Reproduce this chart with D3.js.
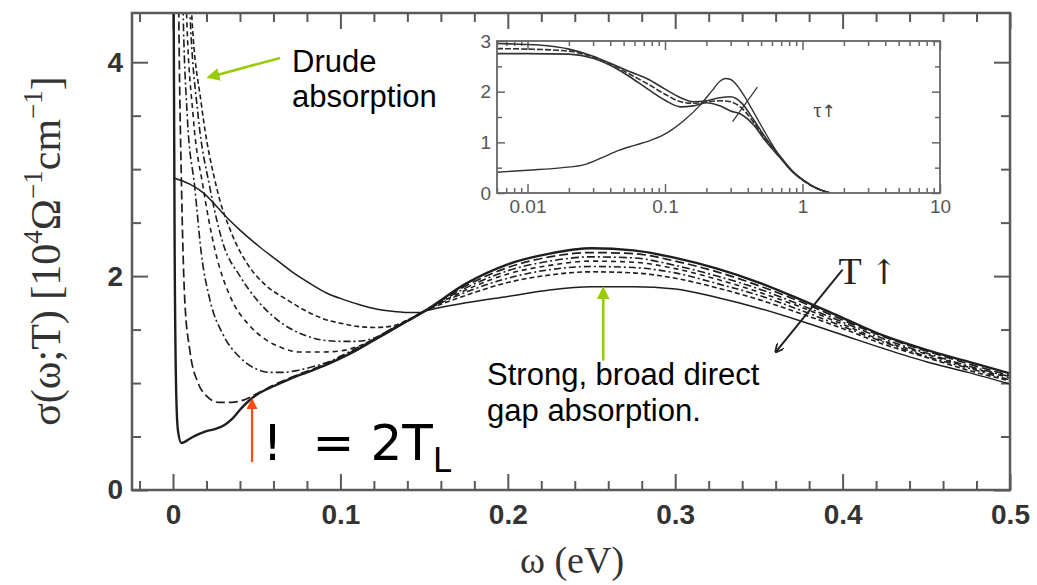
<!DOCTYPE html>
<html>
<head>
<meta charset="utf-8">
<script src="https://cdn.jsdelivr.net/npm/d3@7"></script>
<style>
  body { margin: 0; background: #fff; }
</style>
</head>
<body>
<div id="wrapper"></div>
<script>
// ---- valores (omega em eV, sigma em 10^4 ohm^-1 cm^-1) ----
const omegaTicks = [0, 0.1, 0.2, 0.3, 0.4, 0.5];
const sigmaTicks = [0, 2, 4];

// parte baixa-frequencia de cada curva: pares [omega, sigma]
const lowT1 = [[0,6.0],[0.001,2.2],[0.002,0.85],[0.003,0.55],[0.005,0.44],[0.007,0.45],[0.01,0.48],[0.015,0.52],[0.02,0.55],[0.025,0.57],[0.03,0.6],[0.035,0.66],[0.04,0.75],[0.045,0.83],[0.05,0.89],[0.06,0.97],[0.07,1.04],[0.08,1.1],[0.09,1.16],[0.1,1.23],[0.11,1.31],[0.12,1.4],[0.13,1.49],[0.14,1.58]];
const lowT2 = [[0,9],[0.0025,6.5],[0.0035,4.4],[0.005,2.9],[0.007,1.78],[0.01,1.31],[0.015,1.0],[0.02,0.88],[0.027,0.82],[0.035,0.82],[0.042,0.84],[0.05,0.9],[0.06,0.98],[0.07,1.05],[0.08,1.11],[0.09,1.17],[0.1,1.24],[0.11,1.32],[0.12,1.41],[0.13,1.5],[0.14,1.58]];
const lowT3 = [[0,9],[0.004,6.5],[0.006,4.5],[0.0085,3.5],[0.013,2.83],[0.017,2.2],[0.022,1.78],[0.03,1.45],[0.04,1.24],[0.05,1.13],[0.058,1.1],[0.066,1.1],[0.075,1.12],[0.085,1.16],[0.095,1.21],[0.1,1.25],[0.11,1.33],[0.12,1.41],[0.13,1.5],[0.14,1.58]];
const lowT4 = [[0,9],[0.005,6.5],[0.008,4.5],[0.012,3.5],[0.018,2.83],[0.025,2.25],[0.035,1.78],[0.045,1.55],[0.055,1.41],[0.065,1.33],[0.076,1.29],[0.088,1.29],[0.1,1.3],[0.11,1.34],[0.12,1.41],[0.13,1.5],[0.14,1.58]];
const lowT5 = [[0,9],[0.006,6.5],[0.01,4.5],[0.015,3.5],[0.022,2.83],[0.03,2.3],[0.04,2.0],[0.05,1.78],[0.06,1.62],[0.07,1.51],[0.08,1.44],[0.09,1.4],[0.1,1.39],[0.11,1.39],[0.12,1.42],[0.13,1.5],[0.14,1.58]];
const lowT6 = [[0,9],[0.007,6.5],[0.011,4.5],[0.017,3.6],[0.026,2.83],[0.035,2.4],[0.045,2.1],[0.055,1.92],[0.068,1.78],[0.08,1.67],[0.09,1.6],[0.1,1.56],[0.11,1.53],[0.12,1.52],[0.13,1.53],[0.14,1.59]];
const lowT7 = [[0,2.92],[0.01,2.86],[0.018,2.78],[0.025,2.67],[0.032,2.55],[0.04,2.43],[0.052,2.27],[0.062,2.15],[0.072,2.03],[0.082,1.93],[0.092,1.84],[0.102,1.78],[0.112,1.73],[0.122,1.69],[0.132,1.67],[0.14,1.66],[0.148,1.66]];

// parte do gap direto, mesma grade de omega para todas
const omegaGap = [0.15, 0.175, 0.2, 0.225, 0.25, 0.275, 0.3, 0.325, 0.35, 0.375, 0.4, 0.425, 0.45, 0.475, 0.5];
const gapT1 = [1.67, 1.93, 2.11, 2.21, 2.26, 2.24, 2.17, 2.07, 1.94, 1.78, 1.61, 1.44, 1.31, 1.20, 1.09];
const gapT2 = [1.67, 1.91, 2.08, 2.18, 2.22, 2.21, 2.14, 2.04, 1.91, 1.76, 1.59, 1.43, 1.30, 1.18, 1.07];
const gapT3 = [1.67, 1.89, 2.05, 2.14, 2.18, 2.17, 2.10, 2.00, 1.88, 1.73, 1.57, 1.41, 1.28, 1.16, 1.06];
const gapT4 = [1.67, 1.87, 2.02, 2.10, 2.14, 2.13, 2.07, 1.97, 1.85, 1.71, 1.55, 1.39, 1.27, 1.15, 1.05];
const gapT5 = [1.67, 1.85, 1.98, 2.06, 2.09, 2.08, 2.03, 1.93, 1.82, 1.68, 1.53, 1.38, 1.25, 1.14, 1.03];
const gapT6 = [1.67, 1.82, 1.94, 2.01, 2.04, 2.03, 1.98, 1.89, 1.78, 1.65, 1.51, 1.36, 1.24, 1.12, 1.02];
const gapT7 = [1.67, 1.75, 1.81, 1.87, 1.90, 1.90, 1.88, 1.80, 1.70, 1.58, 1.45, 1.32, 1.20, 1.10, 0.99];

// inset (eixo x logaritmico)
const insetXTicks = [0.01, 0.1, 1, 10];
const insetYTicks = [0, 1, 2, 3];
const insetLow = [[0.006,0.41],[0.01,0.45],[0.018,0.5],[0.026,0.56],[0.035,0.7],[0.046,0.84],[0.06,0.94],[0.077,1.03],[0.095,1.13],[0.114,1.26],[0.14,1.45],[0.178,1.72],[0.22,2.02],[0.25,2.2],[0.275,2.26],[0.3,2.24],[0.33,2.14],[0.37,1.95],[0.44,1.6],[0.533,1.2],[0.69,0.71],[0.85,0.42],[1.02,0.25],[1.3,0.08],[1.6,0.0]];
const insetA = [[0.006,2.95],[0.008,2.94],[0.012,2.92],[0.02,2.84],[0.03,2.7],[0.04,2.56],[0.055,2.4],[0.075,2.25],[0.1,2.05],[0.13,1.88],[0.16,1.8],[0.2,1.82],[0.25,1.88],[0.3,1.9],[0.36,1.78],[0.44,1.45],[0.53,1.12],[0.69,0.72],[0.85,0.43],[1.02,0.25],[1.3,0.08],[1.6,0.0]];
const insetB = [[0.006,2.85],[0.01,2.84],[0.02,2.8],[0.03,2.68],[0.04,2.55],[0.055,2.35],[0.075,2.15],[0.1,1.95],[0.13,1.8],[0.16,1.77],[0.2,1.8],[0.25,1.82],[0.3,1.8],[0.36,1.68],[0.44,1.4],[0.53,1.08],[0.69,0.7],[0.85,0.42],[1.02,0.24],[1.3,0.08],[1.6,0.0]];
const insetC = [[0.006,2.75],[0.01,2.75],[0.02,2.74],[0.03,2.66],[0.04,2.52],[0.055,2.3],[0.075,2.05],[0.1,1.83],[0.13,1.7],[0.16,1.72],[0.2,1.78],[0.25,1.72],[0.3,1.62],[0.36,1.55],[0.44,1.35],[0.53,1.05],[0.69,0.69],[0.85,0.41],[1.02,0.24],[1.3,0.08],[1.6,0.0]];

function draw() {
  const width = 1037, height = 585;
  const plot = { left: 132, right: 1010, top: 13, bottom: 490 };
  const inset = { left: 497, right: 940, top: 41, bottom: 193 };

  const svg = d3.select("#wrapper").append("svg")
    .attr("width", width).attr("height", height)
    .style("font-family", "'Liberation Sans', Arial, sans-serif");

  const defs = svg.append("defs");
  defs.append("clipPath").attr("id", "plotClip")
    .append("rect").attr("x", plot.left).attr("y", plot.top)
    .attr("width", plot.right - plot.left).attr("height", plot.bottom - plot.top);
  defs.append("clipPath").attr("id", "insetClip")
    .append("rect").attr("x", inset.left).attr("y", inset.top)
    .attr("width", inset.right - inset.left).attr("height", inset.bottom - inset.top);

  // pontas de seta
  const marker = (id, color, open) => {
    const m = defs.append("marker").attr("id", id)
      .attr("viewBox", "0 0 10 10").attr("refX", open ? 9 : 8).attr("refY", 5)
      .attr("markerWidth", open ? 9 : 5).attr("markerHeight", open ? 9 : 5)
      .attr("markerUnits", open ? "userSpaceOnUse" : "strokeWidth")
      .attr("orient", "auto");
    if (open) m.append("path").attr("d", "M0,0 L10,5 L0,10").attr("fill", "none").attr("stroke", color).attr("stroke-width", 2);
    else m.append("path").attr("d", "M0,0 L10,5 L0,10 Z").attr("fill", color);
  };
  marker("greenHead", "#99cc00", false);
  marker("orangeHead", "#ff4a12", false);
  marker("blackHead", "#222", true);

  // Escalas
  const x = d3.scaleLinear().domain([-0.0245, 0.5]).range([plot.left, plot.right]);
  const y = d3.scaleLinear().domain([0, 4.46]).range([plot.bottom, plot.top]);

  const frameColor = "#5a5a5a";
  const minorX = d3.range(-0.02, 0.501, 0.02).filter(v => Math.abs(v * 10 - Math.round(v * 10)) > 1e-6);
  const minorY = d3.range(0.5, 4.46, 0.5).filter(v => v % 2 !== 0);

  const styleAxis = g => {
    g.select(".domain").remove();
    g.selectAll("line").attr("stroke", frameColor).attr("stroke-width", 2);
  };

  // eixos principais (ticks para dentro, nos quatro lados)
  svg.append("g").attr("transform", `translate(0,${plot.bottom})`)
    .call(d3.axisBottom(x).tickValues(omegaTicks).tickSize(-16).tickPadding(14).tickFormat(d3.format("")))
    .call(styleAxis)
    .selectAll("text").attr("font-size", 28).attr("font-weight", "bold").attr("fill", "#333");
  svg.append("g").attr("transform", `translate(0,${plot.bottom})`)
    .call(d3.axisBottom(x).tickValues(minorX).tickSize(-9).tickFormat(""))
    .call(styleAxis);
  svg.append("g").attr("transform", `translate(0,${plot.top})`)
    .call(d3.axisTop(x).tickValues(omegaTicks).tickSize(-16).tickFormat(""))
    .call(styleAxis);
  svg.append("g").attr("transform", `translate(0,${plot.top})`)
    .call(d3.axisTop(x).tickValues(minorX).tickSize(-9).tickFormat(""))
    .call(styleAxis);

  svg.append("g").attr("transform", `translate(${plot.left},0)`)
    .call(d3.axisLeft(y).tickValues(sigmaTicks).tickSize(-16).tickPadding(9).tickFormat(d3.format("d")))
    .call(styleAxis)
    .selectAll("text").attr("font-size", 28).attr("font-weight", "bold").attr("fill", "#333");
  svg.append("g").attr("transform", `translate(${plot.left},0)`)
    .call(d3.axisLeft(y).tickValues(minorY).tickSize(-9).tickFormat(""))
    .call(styleAxis);
  svg.append("g").attr("transform", `translate(${plot.right},0)`)
    .call(d3.axisRight(y).tickValues(sigmaTicks).tickSize(-16).tickFormat(""))
    .call(styleAxis);
  svg.append("g").attr("transform", `translate(${plot.right},0)`)
    .call(d3.axisRight(y).tickValues(minorY).tickSize(-9).tickFormat(""))
    .call(styleAxis);

  // curvas principais
  const line = d3.line().x(d => x(d[0])).y(d => y(d[1])).curve(d3.curveMonotoneX);
  const withGap = (low, gap) => low.concat(omegaGap.map((w, i) => [w, gap[i]]));
  const curves = [
    withGap(lowT7, gapT7),
    withGap(lowT6, gapT6),
    withGap(lowT5, gapT5),
    withGap(lowT4, gapT4),
    withGap(lowT3, gapT3),
    withGap(lowT2, gapT2),
    withGap(lowT1, gapT1)
  ];
  const dashes = [null, "5,3", "7,3,2,3", "5,4", "8,3,2,3", "9,4", null];
  const widths = [1.5, 1.6, 1.6, 1.6, 1.6, 1.7, 2.4];

  svg.append("g").attr("clip-path", "url(#plotClip)")
    .selectAll("path").data(curves).join("path")
      .attr("d", line)
      .attr("fill", "none")
      .attr("stroke", "#1e1e1e")
      .attr("stroke-width", (d, i) => widths[i])
      .attr("stroke-dasharray", (d, i) => dashes[i]);

  // moldura principal
  svg.append("rect")
    .attr("x", plot.left).attr("y", plot.top)
    .attr("width", plot.right - plot.left).attr("height", plot.bottom - plot.top)
    .attr("fill", "none").attr("stroke", frameColor).attr("stroke-width", 2.5);

  // rotulos dos eixos
  svg.append("text")
    .attr("transform", `translate(60,251) rotate(-90)`)
    .attr("text-anchor", "middle")
    .attr("font-family", "'Liberation Serif', 'Times New Roman', serif")
    .attr("font-size", 42).attr("fill", "#333")
    .call(t => {
      t.append("tspan").text("σ(ω;T)  [10");
      t.append("tspan").attr("font-size", 27).attr("dy", -18).text("4");
      t.append("tspan").attr("dy", 18).text("Ω");
      t.append("tspan").attr("font-size", 27).attr("dy", -18).text("−1");
      t.append("tspan").attr("dy", 18).text("cm");
      t.append("tspan").attr("font-size", 27).attr("dy", -18).text("−1");
      t.append("tspan").attr("dy", 18).text("]");
    });

  svg.append("text")
    .attr("x", 572).attr("y", 573)
    .attr("text-anchor", "middle")
    .attr("font-family", "'Liberation Serif', 'Times New Roman', serif")
    .attr("font-size", 38).attr("fill", "#333")
    .text("ω (eV)");

  // ---- inset ----
  const ix = d3.scaleLog().domain([0.006, 10]).range([inset.left, inset.right]);
  const iy = d3.scaleLinear().domain([0, 3]).range([inset.bottom, inset.top]);

  svg.append("rect")
    .attr("x", inset.left).attr("y", inset.top)
    .attr("width", inset.right - inset.left).attr("height", inset.bottom - inset.top)
    .attr("fill", "#fff");

  const insetMinorX = [];
  [0.001, 0.01, 0.1, 1].forEach(dec => d3.range(2, 10).forEach(k => {
    const v = dec * k;
    if (v >= 0.006 && v <= 10) insetMinorX.push(v);
  }));
  const insetMinorY = [0.5, 1.5, 2.5];
  const insetColor = "#666";
  const styleInset = g => {
    g.select(".domain").remove();
    g.selectAll("line").attr("stroke", insetColor).attr("stroke-width", 1.5);
  };

  svg.append("g").attr("transform", `translate(0,${inset.bottom})`)
    .call(d3.axisBottom(ix).tickValues(insetXTicks).tickSize(-9).tickPadding(7).tickFormat(d3.format("")))
    .call(styleInset)
    .selectAll("text").attr("font-size", 19).attr("fill", "#555");
  svg.append("g").attr("transform", `translate(0,${inset.bottom})`)
    .call(d3.axisBottom(ix).tickValues(insetMinorX).tickSize(-5).tickFormat(""))
    .call(styleInset);
  svg.append("g").attr("transform", `translate(0,${inset.top})`)
    .call(d3.axisTop(ix).tickValues(insetXTicks).tickSize(-9).tickFormat(""))
    .call(styleInset);
  svg.append("g").attr("transform", `translate(0,${inset.top})`)
    .call(d3.axisTop(ix).tickValues(insetMinorX).tickSize(-5).tickFormat(""))
    .call(styleInset);
  svg.append("g").attr("transform", `translate(${inset.left},0)`)
    .call(d3.axisLeft(iy).tickValues(insetYTicks).tickSize(-8).tickPadding(6).tickFormat(d3.format("d")))
    .call(styleInset)
    .selectAll("text").attr("font-size", 19).attr("fill", "#555");
  svg.append("g").attr("transform", `translate(${inset.left},0)`)
    .call(d3.axisLeft(iy).tickValues(insetMinorY).tickSize(-5).tickFormat(""))
    .call(styleInset);
  svg.append("g").attr("transform", `translate(${inset.right},0)`)
    .call(d3.axisRight(iy).tickValues(insetYTicks).tickSize(-8).tickFormat(""))
    .call(styleInset);
  svg.append("g").attr("transform", `translate(${inset.right},0)`)
    .call(d3.axisRight(iy).tickValues(insetMinorY).tickSize(-5).tickFormat(""))
    .call(styleInset);

  const iline = d3.line().x(d => ix(d[0])).y(d => iy(d[1])).curve(d3.curveMonotoneX);
  svg.append("g").attr("clip-path", "url(#insetClip)")
    .selectAll("path").data([insetA, insetB, insetC, insetLow]).join("path")
      .attr("d", iline)
      .attr("fill", "none")
      .attr("stroke", "#333")
      .attr("stroke-width", (d, i) => i === 3 ? 1.4 : 1.6)
      .attr("stroke-dasharray", (d, i) => i === 1 ? "6,2" : null);

  svg.append("line")
    .attr("x1", ix(0.31)).attr("y1", iy(1.41))
    .attr("x2", ix(0.47)).attr("y2", iy(2.09))
    .attr("stroke", "#333").attr("stroke-width", 1.2);

  svg.append("rect")
    .attr("x", inset.left).attr("y", inset.top)
    .attr("width", inset.right - inset.left).attr("height", inset.bottom - inset.top)
    .attr("fill", "none").attr("stroke", insetColor).attr("stroke-width", 1.8);

  const tau = svg.append("text")
    .attr("x", ix(1.45)).attr("y", iy(1.5))
    .attr("text-anchor", "middle")
    .attr("font-size", 20).attr("fill", "#444");
  tau.append("tspan").attr("font-family", "'Liberation Serif', serif").text("τ");
  tau.append("tspan").attr("font-family", "'DejaVu Sans', sans-serif").attr("font-size", 17).text("↑");

  // ---- anotacoes ----
  const arrow = (from, to, color, head, w) => svg.append("line")
    .attr("x1", x(from[0])).attr("y1", y(from[1]))
    .attr("x2", x(to[0])).attr("y2", y(to[1]))
    .attr("stroke", color).attr("stroke-width", w)
    .attr("marker-end", `url(#${head})`);

  arrow([0.064, 4.04], [0.0215, 3.86], "#99cc00", "greenHead", 2.6);
  arrow([0.257, 1.21], [0.257, 1.88], "#99cc00", "greenHead", 2.6);
  arrow([0.0472, 0.26], [0.0472, 0.84], "#ff4a12", "orangeHead", 2.2);
  arrow([0.40, 2.06], [0.36, 1.29], "#222", "blackHead", 2);

  const label = (pos, lines, size, lh) => {
    const t = svg.append("text")
      .attr("x", x(pos[0])).attr("y", y(pos[1]))
      .attr("font-size", size).attr("fill", "#000");
    lines.forEach((s, i) => t.append("tspan").attr("x", x(pos[0])).attr("dy", i ? lh : 0).text(s));
  };
  label([0.0711, 3.91], ["Drude", "absorption"], 31, 35);
  label([0.1876, 0.98], ["Strong, broad direct", "gap absorption."], 31, 36);

  const tUp = svg.append("text")
    .attr("x", x(0.3975)).attr("y", y(1.93))
    .attr("font-size", 38).attr("fill", "#222");
  tUp.append("tspan").attr("font-family", "'Liberation Serif', serif").text("T");
  tUp.append("tspan").attr("font-family", "'DejaVu Serif', serif").attr("font-size", 34).attr("dx", 8).text("↑");

  const eq = svg.append("text")
    .attr("x", x(0.0535)).attr("y", y(0.28))
    .attr("font-family", "'DejaVu Sans', Verdana, sans-serif")
    .attr("font-size", 50).attr("fill", "#000");
  eq.append("tspan").text("!");
  eq.append("tspan").attr("dx", 30).text("= 2T");
  eq.append("tspan").attr("font-size", 33).attr("dy", 12).text("L");
}
draw();
</script>
</body>
</html>
